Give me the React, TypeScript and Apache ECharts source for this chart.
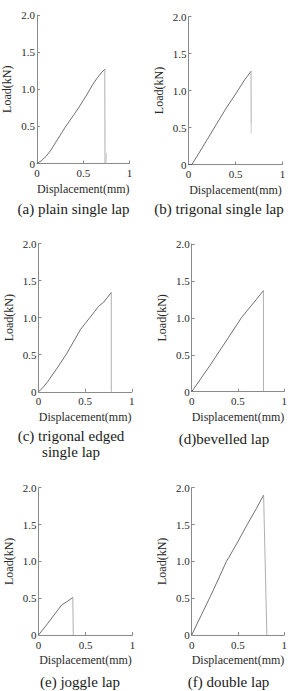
import React, { useEffect, useRef } from "react";
import * as echarts from "echarts";

// ---- data (displacement mm, load kN) ----
const plainCurve: [number, number][] = [
  [0, 0], [0.05, 0.04], [0.1, 0.1], [0.15, 0.18], [0.2, 0.28], [0.25, 0.38], [0.3, 0.48],
  [0.35, 0.57], [0.4, 0.66], [0.45, 0.75], [0.5, 0.85], [0.55, 0.95], [0.6, 1.06],
  [0.65, 1.15], [0.7, 1.23], [0.733, 1.27],
];
const plainDrop: [number, number][] = [[0.733, 1.27], [0.735, 0]];
const plainMark: [number, number][] = [[0.749, 0], [0.749, 0.14]];

const trigonalCurve: [number, number][] = [
  [0, 0], [0.035, 0], [0.1, 0.13], [0.2, 0.34], [0.3, 0.55], [0.4, 0.76], [0.5, 0.95],
  [0.55, 1.05], [0.6, 1.15], [0.63, 1.2], [0.665, 1.26],
];
const trigonalDrop: [number, number][] = [[0.665, 1.26], [0.667, 0.56]];
const trigonalDropTail: [number, number][] = [[0.667, 0.56], [0.667, 0.42]];

const edgedCurve: [number, number][] = [
  [0, 0], [0.05, 0.06], [0.1, 0.14], [0.2, 0.32], [0.3, 0.51], [0.4, 0.73], [0.45, 0.84],
  [0.5, 0.92], [0.55, 1.0], [0.6, 1.08], [0.645, 1.155], [0.7, 1.21], [0.75, 1.29], [0.78, 1.34],
];
const edgedDrop: [number, number][] = [[0.78, 1.34], [0.78, 0]];

const bevelledCurve: [number, number][] = [
  [0, 0], [0.1, 0.18], [0.2, 0.36], [0.3, 0.55], [0.4, 0.74], [0.5, 0.93], [0.536, 1.0],
  [0.6, 1.1], [0.7, 1.25], [0.775, 1.37],
];
const bevelledDrop: [number, number][] = [[0.775, 1.37], [0.775, 0]];

const joggleCurve: [number, number][] = [
  [0, 0], [0.1, 0.16], [0.2, 0.33], [0.248, 0.41], [0.3, 0.45], [0.365, 0.51],
];
const joggleDrop: [number, number][] = [[0.365, 0.51], [0.37, 0]];

const doubleCurve: [number, number][] = [
  [0, 0], [0.1, 0.26], [0.2, 0.52], [0.3, 0.79], [0.375, 1.0], [0.4, 1.05], [0.5, 1.27],
  [0.6, 1.5], [0.7, 1.72], [0.777, 1.9],
];
const doubleDrop: [number, number][] = [[0.777, 1.9], [0.812, 0]];

const xTickLabels = ["0", "0.5", "1"];
const yTickLabels = ["0", "0.5", "1.0", "1.5", "2.0"];
const xAxisName = "Displacement(mm)";
const yAxisName = "Load(kN)";
const captions = [
  "(a) plain single lap",
  "(b) trigonal single lap",
  "(c) trigonal edged\nsingle lap",
  "(d)bevelled lap",
  "(e) joggle lap",
  "(f) double lap",
];

const panels = [
  { curve: plainCurve, drops: [plainDrop, plainMark] },
  { curve: trigonalCurve, drops: [trigonalDrop, trigonalDropTail] },
  { curve: edgedCurve, drops: [edgedDrop] },
  { curve: bevelledCurve, drops: [bevelledDrop] },
  { curve: joggleCurve, drops: [joggleDrop] },
  { curve: doubleCurve, drops: [doubleDrop] },
];

// layout
const grids = [
  { left: 36, top: 15, width: 93.5, height: 148.5 },
  { left: 188.5, top: 16.5, width: 94, height: 148 },
  { left: 38.5, top: 243.5, width: 93.3, height: 148.3 },
  { left: 191.7, top: 244, width: 93.3, height: 147.7 },
  { left: 38.5, top: 487.7, width: 94, height: 147.3 },
  { left: 191.7, top: 487.7, width: 93.3, height: 147.3 },
];
const captionPos = [
  { x: 73.5, y: 209 },
  { x: 219, y: 209 },
  { x: 71, y: 444 },
  { x: 224, y: 439 },
  { x: 80, y: 682 },
  { x: 228.5, y: 682 },
];

const FONT = "Liberation Serif";
const AXIS_COLOR = "#8a8a8a";
const TEXT_COLOR = "#2a2a2a";

export default function App() {
  const ref = useRef<HTMLDivElement>(null);
  useEffect(() => {
    if (!ref.current) return;
    const chart = echarts.init(ref.current, undefined, { renderer: "svg" });
    const xAxis: any[] = [];
    const yAxis: any[] = [];
    const series: any[] = [];
    panels.forEach((p, i) => {
      xAxis.push({
        gridIndex: i,
        type: "value",
        min: 0,
        max: 1,
        interval: 0.5,
        name: xAxisName,
        nameLocation: "middle",
        nameGap: 19,
        nameTextStyle: { fontFamily: FONT, fontSize: 12, color: TEXT_COLOR },
        axisLine: { show: true, onZero: false, lineStyle: { color: AXIS_COLOR, width: 1 } },
        axisTick: { show: true, inside: true, length: 3, lineStyle: { color: AXIS_COLOR } },
        splitLine: { show: false },
        axisLabel: {
          margin: 4,
          fontFamily: FONT,
          fontSize: 11,
          color: TEXT_COLOR,
          formatter: (v: number) => xTickLabels[Math.round(v / 0.5)] ?? "",
        },
      });
      yAxis.push({
        gridIndex: i,
        type: "value",
        min: 0,
        max: 2,
        interval: 0.5,
        name: yAxisName,
        nameLocation: "middle",
        nameGap: 24,
        nameTextStyle: { fontFamily: FONT, fontSize: 12, color: TEXT_COLOR },
        axisLine: { show: true, onZero: false, lineStyle: { color: AXIS_COLOR, width: 1 } },
        axisTick: { show: true, inside: true, length: 3, lineStyle: { color: AXIS_COLOR } },
        splitLine: { show: false },
        axisLabel: {
          margin: 2,
          fontFamily: FONT,
          fontSize: 11,
          color: TEXT_COLOR,
          formatter: (v: number) => yTickLabels[Math.round(v / 0.5)] ?? "",
        },
      });
      series.push({
        type: "line",
        xAxisIndex: i,
        yAxisIndex: i,
        data: p.curve,
        showSymbol: false,
        symbol: "none",
        lineStyle: { color: "#4a4a4a", width: 0.8 },
      });
      p.drops.forEach((d, k) => {
        series.push({
          type: "line",
          xAxisIndex: i,
          yAxisIndex: i,
          data: d,
          showSymbol: false,
          symbol: "none",
          lineStyle: { color: k === 0 ? "#9a9a9a" : "#bbbbbb", width: 0.8 },
        });
      });
    });
    const graphic = captions.map((c, i) => ({
      type: "text",
      x: captionPos[i].x,
      y: captionPos[i].y,
      style: {
        text: c,
        fontFamily: FONT,
        fontSize: 15,
        fill: "#1a1a1a",
        align: "center",
        verticalAlign: "middle",
        lineHeight: 16,
      },
    }));
    chart.setOption({
      animation: false,
      backgroundColor: "#ffffff",
      grid: grids.map((g) => ({ ...g, containLabel: false })),
      xAxis,
      yAxis,
      series,
      graphic,
    });
    return () => chart.dispose();
  }, []);
  return (
    <div
      ref={ref}
      style={{ position: "fixed", left: 0, top: 0, width: 290, height: 691, background: "#fff" }}
    />
  );
}
